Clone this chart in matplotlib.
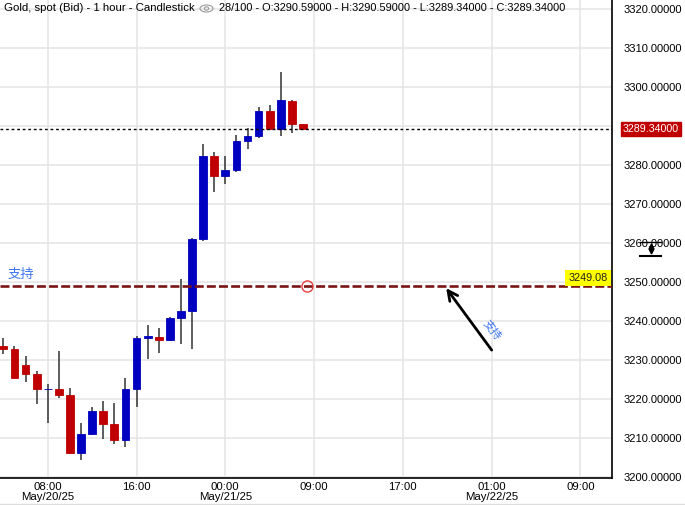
import matplotlib
matplotlib.use('Agg')
import matplotlib.pyplot as plt
from matplotlib.patches import Ellipse, Circle
import matplotlib.transforms as mtrans
from matplotlib.lines import Line2D

# ---------------- data ----------------
opens  = [3233.7, 3232.9, 3228.8, 3226.5, 3222.5, 3222.6, 3221.1, 3206.3, 3211.1, 3217.0,
          3213.7, 3209.6, 3222.6, 3235.8, 3236.0, 3235.3, 3240.9, 3242.7, 3261.2, 3282.4,
          3277.3, 3278.8, 3286.2, 3287.5, 3293.9, 3289.3, 3296.5, 3290.59]
highs  = [3235.8, 3233.7, 3231.1, 3227.3, 3223.9, 3232.4, 3222.9, 3213.9, 3217.9, 3219.6,
          3219.1, 3225.5, 3236.1, 3239.1, 3238.3, 3241.2, 3250.8, 3261.4, 3285.5, 3283.3,
          3282.4, 3287.8, 3289.6, 3294.9, 3295.5, 3303.9, 3296.7, 3290.59]
lows   = [3231.7, 3225.5, 3224.3, 3218.9, 3214.0, 3220.4, 3206.0, 3204.3, 3210.8, 3209.9,
          3208.4, 3207.8, 3218.0, 3230.4, 3231.9, 3235.0, 3234.2, 3232.9, 3260.7, 3273.2,
          3275.3, 3278.3, 3284.2, 3287.0, 3289.3, 3287.5, 3288.3, 3289.34]
closes = [3233.0, 3225.5, 3226.6, 3222.5, 3222.6, 3221.2, 3206.3, 3211.1, 3217.0, 3213.7,
          3209.6, 3222.6, 3235.7, 3236.3, 3235.3, 3240.8, 3242.6, 3261.1, 3282.4, 3277.3,
          3278.8, 3286.2, 3287.5, 3293.9, 3289.3, 3296.7, 3290.6, 3289.34]

tick_bars = [4, 12, 20, 28, 36, 44, 52]
tick_labels = ["08:00\nMay/20/25", "16:00", "00:00\nMay/21/25", "09:00",
               "17:00", "01:00\nMay/22/25", "09:00"]
y_ticks = list(range(3200, 3330, 10))

support_level = 3249.08
last_price = 3289.34
arrow_tail = (44.0, 3232.6)
arrow_head = (39.9, 3248.5)
marker_bar = 27.4

header_left = "Gold, spot (Bid) - 1 hour - Candlestick"
header_right = "28/100 - O:3290.59000 - H:3290.59000 - L:3289.34000 - C:3289.34000"

# ---------------- style ----------------
UP = '#0000c0'
DOWN = '#c00000'
WICK = '#333333'
GRID = '#e6e6e6'
SUPPORT = '#7a1414'
CN_BLUE = '#3d74f0'
CJK = ['Noto Sans CJK SC', 'DejaVu Sans']

plt.rcParams['font.family'] = ['Liberation Sans', 'DejaVu Sans']
W, H = 685, 505
fig = plt.figure(figsize=(W / 100, H / 100), dpi=100)
ax = fig.add_axes([0, 27 / H, 612 / W, 1 - 27 / H])

xs = list(range(len(opens)))
for i in xs:
    o, c = opens[i], closes[i]
    col = UP if c >= o else DOWN
    ax.vlines(i, lows[i], highs[i], color=WICK, lw=1.1, zorder=2)
    ax.bar(i, abs(c - o), bottom=min(o, c), width=0.7, color=col,
           edgecolor=col, linewidth=0.6, zorder=3)

ax.set_xlim(-0.3, 54.84)
ax.set_ylim(3199.8, 3322.4)

# the 3290 label is hidden behind the last-price box in the reference
ax.set_yticks(y_ticks)
ax.set_yticklabels(["" if abs(v - last_price) < 2 else f"{v:.5f}" for v in y_ticks])
ax.yaxis.tick_right()
ax.set_xticks(tick_bars)
ax.set_xticklabels(tick_labels)
ax.tick_params(axis='y', length=0, pad=8, labelsize=8.0)
ax.tick_params(axis='x', length=0, pad=3, labelsize=8.2)
for lab in ax.get_xticklabels():
    lab.set_linespacing(0.95)

ax.grid(True, color=GRID, lw=1.2, zorder=0)
ax.set_axisbelow(True)
for s in ['top', 'left']:
    ax.spines[s].set_visible(False)
ax.spines['right'].set_color('black')
ax.spines['bottom'].set_color('black')
ax.spines['right'].set_linewidth(1.2)
ax.spines['bottom'].set_linewidth(1.2)

# current price line
ax.axhline(last_price, color='black', lw=1.0, ls=(0, (2, 2)), zorder=4)
trans = mtrans.blended_transform_factory(ax.transAxes, ax.transData)
ax.text(1.0 + 11 / 612, last_price, f"{last_price:.5f}", transform=trans,
        ha='left', va='center', color='white', fontsize=7.7,
        bbox=dict(boxstyle='square,pad=0.22', fc=DOWN, ec=DOWN), clip_on=False, zorder=6)

# support line
ax.axhline(support_level, color=SUPPORT, lw=1.9, ls=(0, (3.4, 1.2)), zorder=4)
ax.text(8 / 612, support_level + 1.3, "支持", transform=trans, ha='left', va='bottom',
        color=CN_BLUE, fontsize=9.5, family=CJK, zorder=6)
ax.text(0.993, support_level + 0.75, f"{support_level:.2f}", transform=trans,
        ha='right', va='bottom', color='#222222', fontsize=7.8,
        bbox=dict(boxstyle='square,pad=0.28', fc='#ffff00', ec='none'), zorder=6)
ax.plot([marker_bar], [support_level], marker='o', ms=8, mfc='none', mec='#e84040',
        mew=1.0, zorder=6)

# arrow and rotated label
ax.annotate("", xy=arrow_head, xytext=arrow_tail,
            arrowprops=dict(arrowstyle='->,head_length=0.7,head_width=0.35',
                            color='black', lw=2.0, shrinkA=0, shrinkB=0), zorder=6)
ax.text(44.0, 3237.6, "支持", rotation=-52, ha='center', va='center', color=CN_BLUE,
        fontsize=8, family=CJK, zorder=6, rotation_mode='anchor')

# header
fig.text(4 / W, 1 - 8 / H, header_left, ha='left', va='center', fontsize=8.2)
fig.text(219 / W, 1 - 8 / H, header_right, ha='left', va='center', fontsize=7.95)
fig.add_artist(Ellipse((206.5 / W, 1 - 8.5 / H), 13 / W, 7 / H, fill=False,
                       ec='#999999', lw=0.8, transform=fig.transFigure))
fig.add_artist(Circle((206.5 / W, 1 - 8.5 / H), 2.2 / W, fill=False,
                      ec='#999999', lw=0.8, transform=fig.transFigure))

# drawing-tool handle icon on the right axis
fig.add_artist(Line2D([640 / W, 661 / W], [1 - 242 / H, 1 - 242 / H], color='black',
                      lw=1.0, transform=fig.transFigure))
fig.add_artist(Line2D([640 / W, 661 / W], [1 - 256 / H, 1 - 256 / H], color='black',
                      lw=1.5, transform=fig.transFigure))
fig.add_artist(Line2D([650.5 / W], [1 - 246 / H], marker='^', ms=3.5, color='black',
                      transform=fig.transFigure))
fig.add_artist(Line2D([650.5 / W], [1 - 250.5 / H], marker='v', ms=3.5, color='black',
                      transform=fig.transFigure))

# bottom light border
fig.add_artist(Line2D([0, 1], [1.5 / H, 1.5 / H], color='#dddddd', lw=1.0,
                      transform=fig.transFigure))

fig.savefig('out.png', dpi=100)
